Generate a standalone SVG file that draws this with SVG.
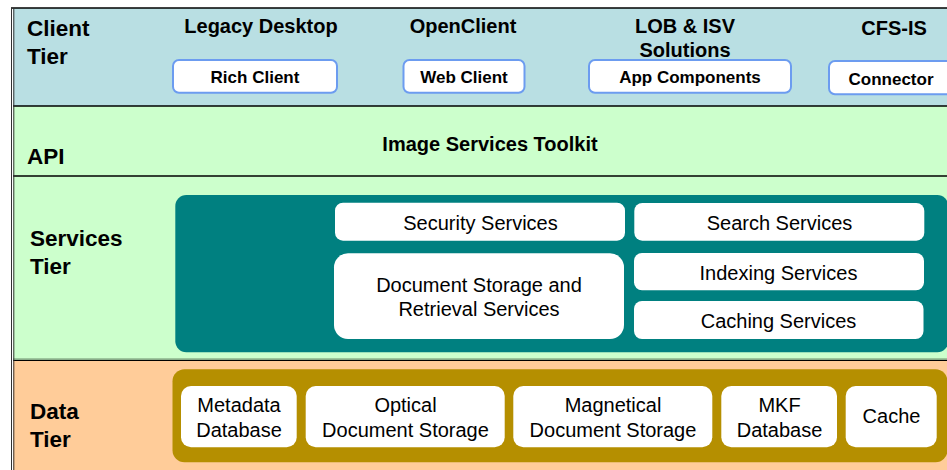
<svg xmlns="http://www.w3.org/2000/svg" width="947" height="470" viewBox="0 0 947 470">
<style>
text{font-family:"Liberation Sans",Arial,sans-serif;fill:#000}
.tier{font-size:22.5px;font-weight:bold}
.hdr{font-size:20px;font-weight:bold;text-anchor:middle}
.cb{fill:#fff;stroke:#6c9cf0;stroke-width:2}
.cbt{font-size:17px;font-weight:bold;text-anchor:middle}
.wb{fill:#fff}
.st{font-size:20px;text-anchor:middle}
.band{stroke:#000;stroke-width:1.3}
</style>
<rect width="947" height="470" fill="#fff"/>
<g id="bands">
<rect x="13" y="8" width="940" height="98" fill="#b9dfe3"/>
<rect x="13" y="106" width="940" height="70" fill="#ccffcc"/>
<rect x="13" y="176" width="940" height="184" fill="#ccffcc"/>
<rect x="13" y="360" width="940" height="112" fill="#ffcc99"/>
<line class="band" x1="11" y1="8" x2="947" y2="8"/>
<line class="band" x1="13" y1="106" x2="947" y2="106"/>
<line class="band" x1="13" y1="176" x2="947" y2="176"/>
<line x1="13" y1="358.8" x2="947" y2="358.8" stroke="#88b088" stroke-width="1"/>
<line class="band" x1="13" y1="360.3" x2="947" y2="360.3"/>
<line x1="11.5" y1="8" x2="11.5" y2="470" stroke="#333" stroke-width="1"/>
<line x1="13.8" y1="8" x2="13.8" y2="470" stroke="#333" stroke-width="1"/>
</g>
<g id="client-tier">
<text class="tier" x="27" y="36">Client</text>
<text class="tier" x="27" y="64">Tier</text>
<text class="hdr" x="261" y="33">Legacy Desktop</text>
<text class="hdr" x="463" y="33">OpenClient</text>
<text class="hdr" x="685" y="33">LOB &amp; ISV</text>
<text class="hdr" x="685" y="57">Solutions</text>
<text class="hdr" x="894" y="35">CFS-IS</text>
</g>
<g id="rich-client"><rect class="cb" x="173" y="60" width="164" height="32.7" rx="6"/><text class="cbt" x="255" y="82.5">Rich Client</text></g>
<g id="web-client"><rect class="cb" x="403.5" y="60" width="121" height="32.7" rx="6"/><text class="cbt" x="464" y="82.5">Web Client</text></g>
<g id="app-components"><rect class="cb" x="589" y="60" width="202" height="32.7" rx="6"/><text class="cbt" x="690" y="82.5">App Components</text></g>
<g id="connector"><rect class="cb" x="829" y="61" width="130" height="33.3" rx="6"/><text class="cbt" x="891" y="85">Connector</text></g>
<g id="api">
<text class="tier" x="27" y="163.5">API</text>
<text class="hdr" x="490" y="151">Image Services Toolkit</text>
</g>
<g id="services-tier">
<text class="tier" x="30" y="246">Services</text>
<text class="tier" x="30" y="273.5">Tier</text>
<rect x="175.3" y="195" width="773" height="157.3" rx="11" fill="#008080"/>
</g>
<g id="security-services"><rect class="wb" x="335" y="202.7" width="290" height="38" rx="8"/><text class="st" x="480.5" y="230">Security Services</text></g>
<g id="search-services"><rect class="wb" x="634.3" y="203" width="290" height="37.7" rx="8"/><text class="st" x="779.5" y="230">Search Services</text></g>
<g id="doc-storage"><rect class="wb" x="334" y="253.3" width="290" height="85.7" rx="14"/><text class="st" x="479" y="291.7">Document Storage and</text><text class="st" x="479" y="315.5">Retrieval Services</text></g>
<g id="indexing-services"><rect class="wb" x="634" y="253" width="290" height="37.3" rx="8"/><text class="st" x="778.5" y="279.5">Indexing Services</text></g>
<g id="caching-services"><rect class="wb" x="634" y="301" width="289.5" height="38" rx="8"/><text class="st" x="778.5" y="328">Caching Services</text></g>
<g id="data-tier">
<text class="tier" x="30" y="418.5">Data</text>
<text class="tier" x="30" y="447">Tier</text>
<rect x="172.5" y="369.3" width="775" height="93" rx="12" fill="#b58f00"/>
</g>
<g id="metadata-db"><rect class="wb" x="181" y="386" width="115.7" height="61.3" rx="10"/><text class="st" x="239" y="412">Metadata</text><text class="st" x="239" y="436.5">Database</text></g>
<g id="optical-storage"><rect class="wb" x="305.7" y="386" width="199" height="61.3" rx="10"/><text class="st" x="405.5" y="412">Optical</text><text class="st" x="405.5" y="436.5">Document Storage</text></g>
<g id="magnetical-storage"><rect class="wb" x="513.3" y="386" width="199" height="61.3" rx="10"/><text class="st" x="613" y="412">Magnetical</text><text class="st" x="613" y="436.5">Document Storage</text></g>
<g id="mkf-db"><rect class="wb" x="721.3" y="386" width="115.7" height="61.3" rx="10"/><text class="st" x="779.5" y="412">MKF</text><text class="st" x="779.5" y="436.5">Database</text></g>
<g id="cache"><rect class="wb" x="845.7" y="386" width="91" height="61.3" rx="10"/><text class="st" x="891.5" y="423.3">Cache</text></g>
<g id="connectors"/>
</svg>
